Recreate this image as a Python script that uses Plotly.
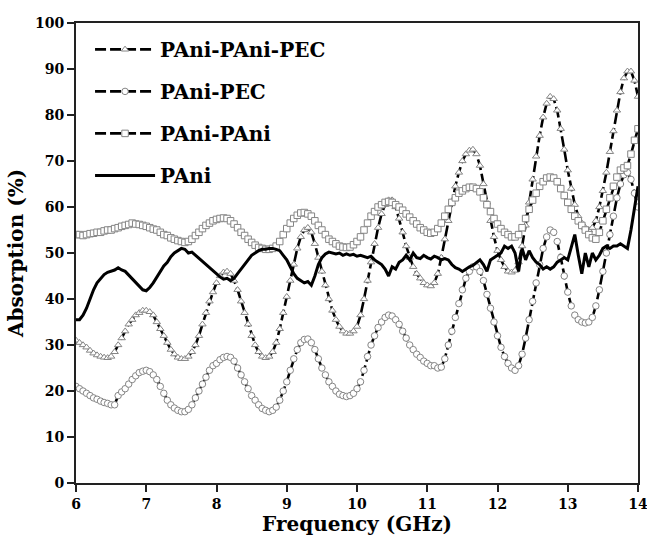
import numpy as np
import plotly.graph_objects as go

# Frequency grid (GHz), 0.05 GHz spacing from 6 to 14
freq = np.round(np.linspace(6.0, 14.0, 161), 2)

pani_pani_pec = [
    31, 30.5, 30, 29.5, 28.8, 28.2, 27.8, 27.5, 27.3, 27.2,
    27.5, 28.5, 30, 31.5, 33, 34.5, 35.5, 36.5, 37, 37.5,
    37.5, 37.2, 36.5, 35, 33.5, 32, 30.5, 29, 28, 27.3,
    27, 27, 27.5, 28.5, 30, 32, 34.5, 37, 39.5, 41.5,
    43.5, 45, 45.8, 46, 45.5, 44, 42, 39.5, 37, 34.5,
    32, 30, 28.5, 27.5, 27.2, 27.5, 28.5, 30.5, 33.5, 37,
    40.5, 44, 47.5, 51, 53.5, 55, 55.5, 54.5, 52, 49,
    46, 43, 40, 37.5, 35.5, 34, 33, 32.5, 32.5, 33,
    34, 36.5, 40, 44, 48, 52, 55.5, 58.5, 60.5, 61.5,
    61.5, 60, 57.5, 54.5, 51.5, 49, 47, 45.5, 44.5, 43.5,
    43, 42.8, 43.5, 45.5, 49, 53, 57, 61, 64.5, 67.5,
    70, 71.5, 72.3, 72.5, 71.5, 69, 65, 61, 57, 53.5,
    50.5, 48.5, 47, 46, 45.8, 46.2, 48, 51.5, 56, 61,
    66, 71, 75.5, 79.5, 82.5, 84, 83.5, 81, 77, 72.5,
    68, 64, 60.5, 58, 56.5, 55.5, 55, 55.5, 57, 60,
    63.5, 67.5, 72, 76.5, 81, 85, 88, 89.5, 89.5, 87.5,
    84,
]

pani_pec = [
    21, 20.5, 20, 19.5, 19, 18.5, 18.2, 17.8, 17.5, 17.3,
    17, 17, 19, 19.8, 20.5, 21.5, 22.5, 23.3, 24, 24.3,
    24.5, 24.2, 23.5, 22.5, 21, 19.5, 18, 17, 16.3, 15.8,
    15.5, 15.5, 16, 17, 18.5, 20, 21.5, 23, 24.5, 25.5,
    26, 26.8, 27.3, 27.5, 27.3, 26.5, 25, 23.5, 22, 20.5,
    19, 18, 17, 16.2, 15.8, 15.5, 15.8, 16.5, 18, 20,
    22, 24.5, 27, 29, 30.5, 31.2, 31.3, 30.5, 29, 27,
    25, 23.5, 22, 21, 20, 19.3, 19, 18.8, 19, 19.5,
    20.5, 22, 24.5, 27.5, 30, 32, 33.8, 35, 36, 36.5,
    36.3, 35.5, 34.5, 33, 31.5, 30, 29, 28, 27.3, 26.5,
    26, 25.5, 25.5, 25, 25.2, 27, 30, 33, 36, 39,
    42, 44.5, 46, 47, 47, 46, 44, 41, 38, 35,
    32, 29.5, 27.5, 26, 25, 24.5, 25.5, 28, 31.5, 35.5,
    39.5, 43.5, 47.5, 51, 53.5, 55, 54.5, 52.5, 49, 45,
    41.5, 38.5, 36.5, 35.5, 35, 34.8, 35, 36, 38.5, 42,
    46, 50, 54, 58, 62, 65, 67, 67.5, 66, 63,
    60,
]

pani_pani = [
    54, 54, 53.8, 54, 54.2, 54.3, 54.5, 54.5, 54.8, 55,
    55, 55.3, 55.5, 55.8, 56, 56.2, 56.5, 56.3, 56.2, 56,
    55.8, 55.5, 55.2, 55, 54.5, 54, 53.8, 53.3, 53, 52.7,
    52.5, 52.3, 52.5, 53, 53.8, 54.5, 55.3, 56, 56.5, 57,
    57.3, 57.5, 57.6, 57.5, 57, 56.3, 55.5, 54.5, 53.8, 53,
    52.3, 51.7, 51.2, 51, 50.8, 50.8, 51, 51.5, 52.5, 54,
    55.3, 56.5, 57.5, 58.2, 58.7, 58.8, 58.5, 58, 57, 56,
    55, 54, 53, 52.5, 52, 51.5, 51.3, 51.2, 51.3, 51.8,
    52.5, 53.5, 55, 56.5, 58, 59, 60, 60.5, 61, 61.2,
    61, 60.5, 60, 59.3, 58.5, 57.8, 57, 56.3, 55.5, 55,
    54.5, 54.3, 54.5, 55.3, 56.5, 58, 59.5, 61, 62, 63,
    63.5, 64, 64.3, 64.3, 64, 63.3, 62, 60.5, 59, 57.5,
    56.3, 55.3, 54.5, 54, 53.5, 53.5, 54, 55.5, 57.5, 59.5,
    61.5, 63, 64.5, 65.5, 66.3, 66.5, 66.3, 65.5, 64, 62.5,
    61, 59.5, 58, 57, 56, 55, 54, 53.3, 53, 54.5,
    57, 59.5, 62, 64.5, 66.5, 68, 68.5, 69, 71.5, 74.5,
    77,
]

pani = [
    35.5, 35.5, 36.5, 38, 40, 42, 43.5, 44.5, 45.3, 45.8,
    46, 46.3, 46.8, 46.3, 46, 45.2, 44.3, 43.5, 42.8, 42,
    41.8, 42.5, 43.5, 44.8, 46, 47.2, 48, 49.2, 50, 50.5,
    51, 50.8, 50, 50.2, 49.5, 49, 48.3, 47.5, 46.8, 46,
    45.3, 44.8, 44.3, 44.5, 44, 44.5, 45.5, 46.5, 47.5, 48.5,
    49.5, 50, 50.5, 50.8, 50.8, 51, 51, 50.8, 50.5, 49.5,
    48.5, 47, 45.5, 44.5, 44, 43.5, 43.8, 43, 45, 47.5,
    49, 49.8, 50.2, 50, 49.8, 50, 49.5, 49.8, 49.5, 49.7,
    49.3, 49.5, 49.2, 49, 49.3, 48.5, 48, 47.5, 46.5, 45,
    47, 46.5, 48, 48.5, 49.5, 48.5, 50, 49, 48.8, 49.5,
    49, 48.7, 49.3, 49, 48.5, 48.8, 48.5, 47.5, 46.8, 46.5,
    46, 46.5, 47, 47.3, 48, 48.5, 47.5, 46, 48.5, 49,
    49.5, 50, 51.5, 51, 51.5, 50, 46, 51, 48.5, 50.5,
    49, 48, 47.5, 46.5, 47, 46.5, 47, 48, 48.5, 49,
    48.5, 51, 54, 49.5, 45.5, 50, 47, 50, 48.5, 49.5,
    51, 51.5, 51, 51.5, 51.5, 52, 51.5, 51, 55, 60,
    64.5,
]

SERIF = "DejaVu Serif"
MARKER_EDGE = "#858585"
DASH = "11px,4px"

fig = go.Figure()

marker_series = [
    ("PAni-PAni-PEC", pani_pani_pec, "triangle-up"),
    ("PAni-PEC", pani_pec, "circle"),
    ("PAni-PAni", pani_pani, "square"),
]
for i, (name, vals, sym) in enumerate(marker_series):
    fig.add_trace(go.Scatter(
        x=freq, y=vals, name=name, mode="lines+markers",
        legendgroup=f"g{i}",
        line=dict(color="black", width=2.6, dash=DASH),
        marker=dict(symbol=sym, size=6.5, color="white",
                    line=dict(color=MARKER_EDGE, width=1)),
    ))

fig.add_trace(go.Scatter(
    x=freq, y=pani, name="PAni", mode="lines", legendgroup="g3",
    line=dict(color="black", width=3),
))

axis_common = dict(
    showline=True, linecolor="#222", linewidth=2, mirror=True,
    ticks="outside", ticklen=7, tickwidth=2, tickcolor="#222",
    showgrid=False, zeroline=False, automargin=False,
    ticklabeloverflow="allow",
    tickfont=dict(family=SERIF, size=14, color="black", weight="bold"),
)

fig.update_xaxes(
    range=[6, 14], dtick=1, **axis_common,
    title=dict(text="Frequency (GHz)", standoff=4,
               font=dict(family=SERIF, size=20, color="black", weight="bold")),
)
fig.update_yaxes(
    range=[0, 100], dtick=10, **axis_common,
    title=dict(text="Absorption (%)", standoff=6,
               font=dict(family=SERIF, size=20, color="black", weight="bold")),
)

fig.update_layout(
    width=647, height=544,
    margin=dict(l=76, r=9, t=23, b=61),
    paper_bgcolor="white", plot_bgcolor="white",
    font=dict(family=SERIF, color="black"),
    showlegend=True,
    legend=dict(
        x=0.025, y=0.985, xanchor="left", yanchor="top",
        bgcolor="rgba(0,0,0,0)", borderwidth=0,
        font=dict(family=SERIF, size=20, color="black", weight="bold"),
        tracegroupgap=13, itemwidth=60,
    ),
)

fig.write_html("out.html")
